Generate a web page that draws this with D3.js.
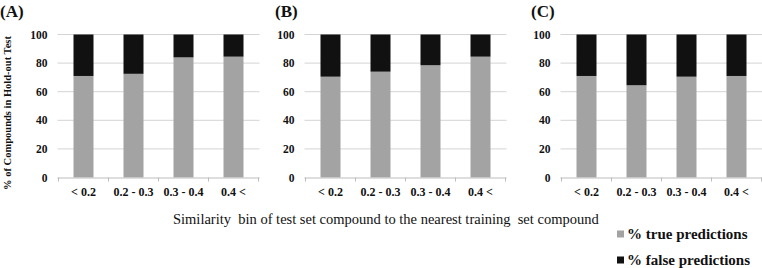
<!DOCTYPE html>
<html>
<head>
<meta charset="utf-8">
<script src="https://cdn.jsdelivr.net/npm/d3@7"></script>
<style>
  body { margin: 0; background: #fff; }
</style>
</head>
<body>
<script>
var bins = ["< 0.2", "0.2 - 0.3", "0.3 - 0.4", "0.4 <"];
var panelLabels = ["(A)", "(B)", "(C)"];
var trueA = [71, 72.5, 84, 84.5];
var falseA = [29, 27.5, 16, 15.5];
var trueB = [70.5, 74, 78.5, 84.5];
var falseB = [29.5, 26, 21.5, 15.5];
var trueC = [71, 64.5, 70.5, 71];
var falseC = [29, 35.5, 29.5, 29];
var yTicks = [0, 20, 40, 60, 80, 100];
var legendNames = ["% true predictions", "% false predictions"];

var W = 762, H = 268;
var plotTop = 34.5, plotBottom = 177.5;
var lefts = [58.5, 305.5, 561.5],
    plotW = 200;
var colTrue = "#a3a3a3", colFalse = "#111111";
var serif = "'Liberation Serif', 'Times New Roman', 'DejaVu Serif', serif";

var svg = d3.select("body").append("svg")
  .attr("width", W)
  .attr("height", H)
  .style("font-family", serif);

var y = d3.scaleLinear().domain([0, 100]).range([plotBottom, plotTop]);

var series = [[trueA, falseA], [trueB, falseB], [trueC, falseC]];

series.forEach(function(s, p) {
  var g = svg.append("g").attr("transform", "translate(" + lefts[p] + ",0)");

  var x = d3.scaleBand().domain(bins).range([0, plotW]).paddingInner(0.6).paddingOuter(0.3);

  // gridlines
  g.selectAll(".grid")
    .data(yTicks.filter(function(d) { return d > 0; }))
    .enter().append("line")
    .attr("x1", -1).attr("x2", plotW + 1)
    .attr("y1", function(d) { return y(d); })
    .attr("y2", function(d) { return y(d); })
    .attr("stroke", "#d4d4d4")
    .attr("stroke-width", 1);

  // y tick labels
  g.selectAll(".ylab")
    .data(yTicks)
    .enter().append("text")
    .attr("x", -11)
    .attr("y", function(d) { return y(d); })
    .attr("dy", "0.35em")
    .attr("text-anchor", "end")
    .attr("fill", "#111")
    .style("font-size", "11.5px")
    .style("font-weight", "bold")
    .text(function(d) { return d; });

  // bars
  var rows = bins.map(function(b, i) { return {bin: b, t: s[0][i], f: s[1][i]}; });
  g.selectAll(".bt")
    .data(rows)
    .enter().append("rect")
    .attr("x", function(d) { return x(d.bin); })
    .attr("width", x.bandwidth())
    .attr("y", function(d) { return y(d.t); })
    .attr("height", function(d) { return y(0) - y(d.t); })
    .attr("fill", colTrue);
  g.selectAll(".bf")
    .data(rows)
    .enter().append("rect")
    .attr("x", function(d) { return x(d.bin); })
    .attr("width", x.bandwidth())
    .attr("y", function(d) { return y(d.t + d.f); })
    .attr("height", function(d) { return y(d.t) - y(d.t + d.f); })
    .attr("fill", colFalse);

  // x axis line + ticks at band edges
  g.append("line")
    .attr("x1", -1).attr("x2", plotW + 1)
    .attr("y1", plotBottom + 0.5).attr("y2", plotBottom + 0.5)
    .attr("stroke", "#bdbdbd");
  g.selectAll(".xt")
    .data(d3.range(bins.length + 1))
    .enter().append("line")
    .attr("x1", function(i) { return i * plotW / bins.length; })
    .attr("x2", function(i) { return i * plotW / bins.length; })
    .attr("y1", plotBottom).attr("y2", plotBottom + 4)
    .attr("stroke", "#bdbdbd");

  g.selectAll(".xlab")
    .data(bins)
    .enter().append("text")
    .attr("x", function(d) { return x(d) + x.bandwidth() / 2; })
    .attr("y", 195.5)
    .attr("text-anchor", "middle")
    .attr("fill", "#111")
    .style("font-size", "12px")
    .style("font-weight", "bold")
    .text(function(d) { return d; });
});

// panel labels
var labelX = [0, 275, 531];
svg.selectAll(".plab")
  .data(panelLabels)
  .enter().append("text")
  .attr("x", function(d, i) { return labelX[i]; })
  .attr("y", 17)
  .attr("fill", "#111")
  .style("font-size", "17px")
  .style("font-weight", "bold")
  .text(function(d) { return d; });

// y axis title
svg.append("text")
  .attr("text-anchor", "middle")
  .attr("transform", "translate(11,113)rotate(-90)")
  .attr("fill", "#111")
  .style("font-size", "10.5px")
  .style("font-weight", "bold")
  .text("% of Compounds in Hold-out Test");

// x axis title
svg.append("text")
  .attr("x", 173)
  .attr("y", 224)
  .attr("fill", "#111")
  .style("font-size", "14.5px")
  .style("white-space", "pre")
  .text("Similarity  bin of test set compound to the nearest training  set compound");

// legend
var legend = svg.selectAll(".legend")
  .data(legendNames)
  .enter().append("g")
  .attr("transform", function(d, i) { return "translate(617," + (234 + i * 26) + ")"; });
legend.append("rect")
  .attr("x", 0).attr("y", -3.5)
  .attr("width", 7).attr("height", 7)
  .attr("fill", function(d, i) { return i === 0 ? colTrue : colFalse; });
legend.append("text")
  .attr("x", 10)
  .attr("dy", "0.35em")
  .attr("fill", "#111")
  .style("font-size", "15px")
  .style("font-weight", "bold")
  .text(function(d) { return d; });
</script>
</body>
</html>
